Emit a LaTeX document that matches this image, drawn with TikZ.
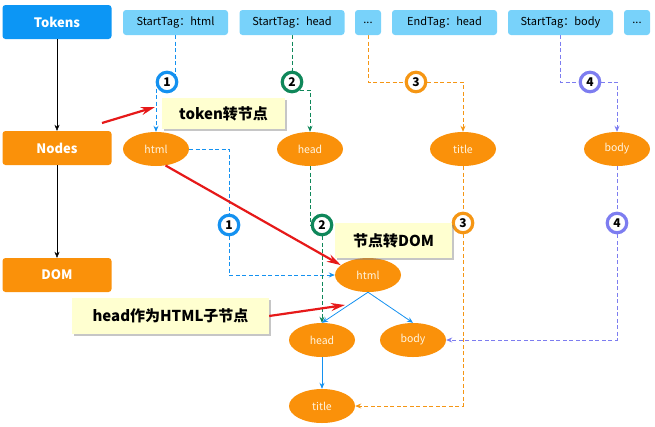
\documentclass[tikz,border=0pt]{standalone}
\usepackage{fontspec}
\setmainfont{Noto Sans CJK SC}
\usetikzlibrary{shapes.geometric,arrows.meta,shadows,backgrounds}

\definecolor{tokenblue}{RGB}{12,150,245}
\definecolor{tagblue}{RGB}{120,210,250}
\definecolor{elemorange}{RGB}{250,145,10}
\definecolor{elemtext}{RGB}{255,245,225}
\definecolor{numblue}{RGB}{20,145,240}
\definecolor{numgreen}{RGB}{15,135,90}
\definecolor{numorange}{RGB}{245,150,20}
\definecolor{numpurple}{RGB}{125,125,240}
\definecolor{noteyellow}{RGB}{255,255,208}
\definecolor{arrowred}{RGB}{230,25,25}

\tikzset{
  rowbox/.style={fill=#1, rounded corners=3pt, minimum width=109pt, minimum height=34pt,
    text=white, font=\bfseries\fontsize{13}{15}\selectfont},
  tagbox/.style={fill=tagblue, rounded corners=3pt, minimum width=#1, minimum height=25pt,
    inner sep=0pt, font=\fontsize{11}{13}\selectfont},
  elem/.style={ellipse, fill=elemorange, minimum width=66pt, minimum height=34pt, inner sep=0pt,
    text=elemtext, font=\fontsize{10.5}{12}\selectfont},
  num/.style={circle, draw=#1, line width=3.2pt, fill=white, minimum size=19.5pt, inner sep=0pt,
    font=\bfseries\fontsize{12}{14}\selectfont},
  link/.style={#1, dash pattern=on 4pt off 2.5pt, line width=0.8pt},
  tip/.style={-{Stealth[length=6pt,width=5pt]}},
  note/.style={fill=noteyellow, drop shadow={shadow xshift=2pt,shadow yshift=-2pt,opacity=0.45},
    font=\bfseries\fontsize{15}{18}\selectfont},
  callout/.style={arrowred, line width=2.2pt, -{Stealth[length=14pt,width=8pt]}},
}

\begin{document}
\begin{tikzpicture}[x=1pt,y=-1pt]
    \useasboundingbox (0,0) rectangle (655,426);

    % rows
    \node[rowbox=tokenblue] (tokens) at (57,22) {Tokens};
    \node[rowbox=elemorange] (nodesrow) at (57,148) {Nodes};
    \node[rowbox=elemorange] (domrow) at (57,275) {DOM};
    \draw[-{Stealth[length=6pt,width=5pt]}] (tokens) -- (nodesrow);
    \draw[-{Stealth[length=6pt,width=5pt]}] (nodesrow) -- (domrow);

    % token stream
    \node[tagbox=105pt] (t1) at (175.5,22.5) {StartTag：html};
    \node[tagbox=105pt] (t2) at (292,22.5) {StartTag：head};
    \node[tagbox=26pt] (t3) at (368,22.5) {...};
    \node[tagbox=105pt] (t4) at (444.5,22.5) {EndTag：head};
    \node[tagbox=105pt] (t5) at (560.5,22.5) {StartTag：body};
    \node[tagbox=26pt] (t6) at (637,22.5) {...};

    \node[num=numblue] (c1) at (167,82) {1};
    \node[num=numgreen] (c2) at (292,82) {2};
    \node[num=numorange] (c3) at (416,82) {3};
    \node[num=numpurple] (c4) at (590,82) {4};

    % nodes
    \node[elem] (n1) at (156,149) {html};
    \node[elem] (n2) at (310,149) {head};
    \node[elem] (n3) at (463,149) {title};
    \node[elem] (n4) at (617,149) {body};

    \node[num=numblue] (d1) at (229,225) {1};
    \node[num=numgreen] (d2) at (322,225) {2};
    \node[num=numorange] (d3) at (463,223) {3};
    \node[num=numpurple] (d4) at (617,223) {4};

    % dom tree
    \node[elem] (dhtml) at (368,275) {html};
    \node[elem] (dhead) at (322,340) {head};
    \node[elem] (dbody) at (413,340) {body};
    \node[elem] (dtitle) at (322,406) {title};

    \begin{scope}[on background layer]
        \draw[link=numblue] (t1.south) -- (t1.south |- c1.center);
        \draw[link=numblue,tip] (n1.north |- c1.center) -- (n1.north);
        \draw[link=numgreen] (t2.south) -- (c2);
        \draw[link=numgreen,tip] (c2.south east) -| (n2.north);
        \draw[link=numorange] (t3.south) |- (c3);
        \draw[link=numorange,tip] (c3) -| (n3.north);
        \draw[link=numpurple] (t5.south) |- (c4);
        \draw[link=numpurple,tip] (c4) -| (n4.north);

        \draw[link=numblue,tip] (n1.east) -| (d1) |- (dhtml.west);
        \draw[link=numgreen] (n2.south) -- (n2.south |- d2.center);
        \draw[link=numgreen,tip] (d2) -- (dhead.north);
        \draw[link=numorange,tip] (n3.south) -- (d3) |- (dtitle.east);
        \draw[link=numpurple,tip] (n4.south) -- (d4) |- (dbody.east);
    \end{scope}

    \draw[numblue,line width=0.8pt,tip] (dhtml.south) -- (dhead.north);
    \draw[numblue,line width=0.8pt,tip] (dhtml.south) -- (dbody.north);
    \draw[numblue,line width=0.8pt,tip] (dhead.south) -- (dtitle.north);

    % notes
    \node[note, minimum width=123pt, minimum height=31pt] (note1) at (223.5,113.5) {token转节点};
    \node[note, minimum width=117pt, minimum height=35pt] (note2) at (393.5,240.5) {节点转DOM};
    \node[note, minimum width=197pt, minimum height=36pt] (note3) at (170.5,316) {head作为HTML子节点};

    \coordinate (r1s) at (102,123);
    \coordinate (r1e) at (155,107);
    \coordinate (r3e) at (345,305);
    \draw[callout] (r1s) -- (r1e);
    \draw[callout] (n1.-60) -- (dhtml.160);
    \draw[callout] (note3.east) -- (r3e);
\end{tikzpicture}
\end{document}
